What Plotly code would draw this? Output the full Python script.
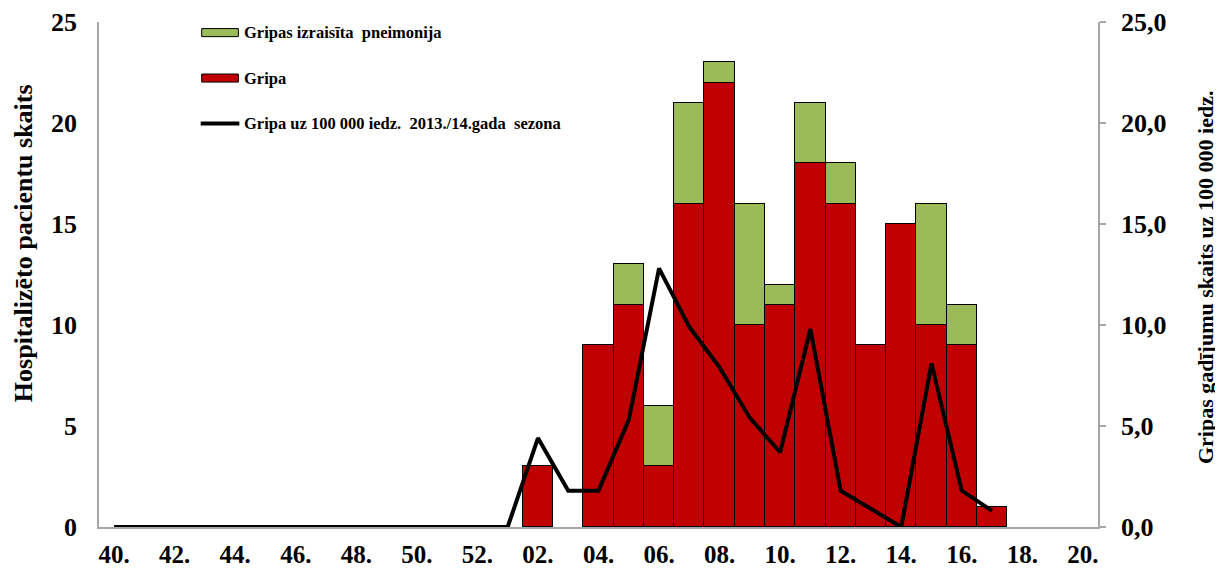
import plotly.graph_objects as go

weeks = ["40", "41", "42", "43", "44", "45", "46", "47", "48", "49", "50", "51", "52",
         "01", "02", "03", "04", "05", "06", "07", "08", "09", "10",
         "11", "12", "13", "14", "15", "16", "17", "18", "19", "20"]

# Hospitalised patients - influenza (red)
gripa = [None] * 14 + [3, None, 9, 11, 3, 16, 22, 10, 11, 18, 16, 9, 15, 10, 9, 1, None, None, None]
# Hospitalised patients - influenza pneumonia (green)
pneimonija = [None] * 17 + [2, 3, 5, 1, 6, 1, 3, 2, None, None, 6, 2, None, None, None, None]
# Influenza per 100 000 inhabitants, 2013/14 season
rate = [0.0] * 14 + [4.4, 1.8, 1.8, 5.3, 12.8, 9.9, 7.9, 5.4, 3.7, 9.8, 1.8, 0.9, 0.0, 8.1, 1.8, 0.8, None, None, None]

tick_weeks = weeks[::2]
tick_text = [w + "." for w in tick_weeks]

RED = "#C00000"
GREEN = "#9BBB59"
GREY = "#A6A6A6"
FONT = "Liberation Serif"

fig = go.Figure()
fig.add_trace(go.Bar(x=weeks, y=gripa, name="Gripa",
                     marker=dict(color=RED, line=dict(color="black", width=1)),
                     showlegend=False))
fig.add_trace(go.Bar(x=weeks, y=pneimonija, name="Gripas izraisīta  pneimonija",
                     marker=dict(color=GREEN, line=dict(color="black", width=1)),
                     showlegend=False))
fig.add_trace(go.Scatter(x=weeks, y=rate, yaxis="y2", mode="lines",
                         name="Gripa uz 100 000 iedz.  2013./14.gada  sezona",
                         line=dict(color="black", width=4), showlegend=False))

# custom legend (wide swatches like the original)
leg_items = [
    ("Gripas izraisīta  pneimonija", GREEN, 0.979, "bar"),
    ("Gripa", RED, 0.889, "bar"),
    ("Gripa uz 100 000 iedz.  2013./14.gada  sezona", "black", 0.799, "line"),
]
shapes = []
annotations = []
for label, col, yc, kind in leg_items:
    if kind == "bar":
        shapes.append(dict(type="rect", xref="paper", yref="paper",
                           x0=0.1028, x1=0.1395, y0=yc - 0.008, y1=yc + 0.008,
                           fillcolor=col, line=dict(color="black", width=1)))
    else:
        shapes.append(dict(type="line", xref="paper", yref="paper",
                           x0=0.1018, x1=0.1405, y0=yc, y1=yc,
                           line=dict(color="black", width=4)))
    annotations.append(dict(x=0.1431, y=yc, xref="paper", yref="paper",
                            text=label, showarrow=False, xanchor="left", yanchor="middle",
                            font=dict(family=FONT, size=16.5, color="black", weight="bold")))

# axis titles as rotated annotations
annotations.append(dict(x=-0.0761, y=0.562, xref="paper", yref="paper",
                        text="Hospitalizēto pacientu skaits", textangle=-90, showarrow=False,
                        xanchor="center", yanchor="middle",
                        font=dict(family=FONT, size=26, color="black", weight="bold")))
annotations.append(dict(x=1.1071, y=0.495, xref="paper", yref="paper",
                        text="Gripas gadījumu skaits uz 100 000 iedz.", textangle=-90, showarrow=False,
                        xanchor="center", yanchor="middle",
                        font=dict(family=FONT, size=22, color="black", weight="bold")))

fig.update_layout(
    width=1223, height=571,
    margin=dict(l=91, r=133, t=14, b=52),
    paper_bgcolor="white", plot_bgcolor="white",
    barmode="stack", bargap=0,
    separators=", ",
    font=dict(family=FONT, color="black"),
    shapes=shapes, annotations=annotations,
    xaxis=dict(type="category", categoryorder="array", categoryarray=weeks,
               tickmode="array", tickvals=tick_weeks, ticktext=tick_text,
               showline=True, linecolor=GREY, linewidth=1.5, ticks="",
               showgrid=False, zeroline=False, ticklabelstandoff=4, automargin=False,
               tickfont=dict(family=FONT, size=25, color="black", weight="bold")),
    yaxis=dict(range=[0, 25], dtick=5, tickformat="d",
               showline=True, linecolor=GREY, linewidth=1.5, ticks="",
               showgrid=False, zeroline=False, ticklabelstandoff=15, automargin=False,
               tickfont=dict(family=FONT, size=26, color="black", weight="bold")),
    yaxis2=dict(range=[0, 25], dtick=5, tickformat=".1f", overlaying="y", side="right",
                showline=True, linecolor=GREY, linewidth=1.5,
                ticks="outside", ticklen=6, tickcolor=GREY, tickwidth=1.5,
                showgrid=False, zeroline=False, ticklabelstandoff=10, automargin=False,
                tickfont=dict(family=FONT, size=26, color="black", weight="bold")),
)

fig.write_html("out.html")
